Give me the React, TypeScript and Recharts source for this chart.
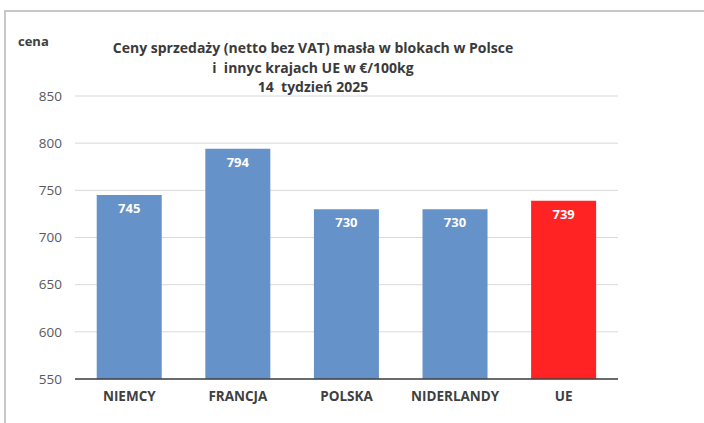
import { BarChart, Bar, XAxis, YAxis, CartesianGrid, Cell, LabelList } from 'recharts';

const countries = ['NIEMCY', 'FRANCJA', 'POLSKA', 'NIDERLANDY', 'UE'];
const prices = [745, 794, 730, 730, 739];
const yTicks = [550, 600, 650, 700, 750, 800, 850];
const titleLines = [
  'Ceny sprzedaży (netto bez VAT) masła w blokach w Polsce',
  'i  innyc krajach UE w €/100kg',
  '14  tydzień 2025',
];

const BLUE = '#6592C8';
const RED = '#FF2323';
const FONT = '"Open Sans", Calibri, sans-serif';

const data = countries.map((name, i) => ({ name, price: prices[i] }));

export default function App() {
  return (
    <div style={{ position: 'absolute', left: 0, top: 0, width: 704, height: 423, background: '#fff', fontFamily: FONT }}>
      {/* frame */}
      <div style={{ position: 'absolute', left: 4, top: 10, right: 0, bottom: 0, borderTop: '2px solid #C8C8C8', borderLeft: '2px solid #C8C8C8' }} />
      <div style={{ position: 'absolute', left: 18, top: 32, fontSize: 13, fontWeight: 700, color: '#404040' }}>cena</div>
      <div style={{ position: 'absolute', left: 92, width: 442, top: 38, textAlign: 'center', fontSize: 14, fontWeight: 700, color: '#3A3A3A', lineHeight: '19.5px' }}>
        {titleLines.map((t) => (
          <div key={t} style={{ whiteSpace: 'pre' }}>{t}</div>
        ))}
      </div>
      <BarChart
        width={704}
        height={423}
        data={data}
        margin={{ top: 96, right: 86, bottom: 14, left: 0 }}
        barCategoryGap="20%"
        style={{ position: 'absolute', left: 0, top: 0 }}
      >
        <CartesianGrid vertical={false} stroke="#D9D9D9" strokeWidth={1} />
        <XAxis
          dataKey="name"
          height={30}
          tickLine={false}
          tickSize={0}
          tickMargin={12}
          axisLine={{ stroke: '#404040', strokeWidth: 1.5 }}
          tick={{ fontSize: 13.5, fontWeight: 700, fill: '#404040', fontFamily: FONT }}
          interval={0}
        />
        <YAxis
          width={75}
          domain={[550, 850]}
          ticks={yTicks}
          allowDataOverflow
          axisLine={false}
          tickLine={false}
          tickSize={0}
          tickMargin={13}
          tick={{ fontSize: 13.5, fill: '#595959', fontFamily: FONT }}
        />
        <Bar dataKey="price" isAnimationActive={false}>
          {data.map((d) => (
            <Cell key={d.name} fill={d.name === 'UE' ? RED : BLUE} />
          ))}
          <LabelList
            dataKey="price"
            position="insideTop"
            offset={9}
            fill="#FFFFFF"
            style={{ fontSize: 13, fontWeight: 700, fontFamily: FONT }}
          />
        </Bar>
      </BarChart>
    </div>
  );
}
